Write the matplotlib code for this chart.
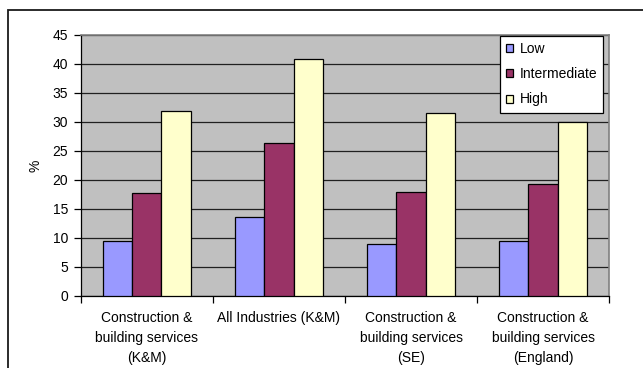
import numpy as np
import matplotlib.pyplot as plt
from matplotlib.patches import Patch, Rectangle

plt.rcParams['font.family'] = ['Liberation Sans', 'DejaVu Sans']

categories = ["Construction &\nbuilding services\n(K&M)",
              "All Industries (K&M)",
              "Construction &\nbuilding services\n(SE)",
              "Construction &\nbuilding services\n(England)"]
low = [9.4, 13.7, 9.0, 9.4]
intermediate = [17.7, 26.3, 17.9, 19.3]
high = [31.9, 40.8, 31.6, 30.0]

series = [("Low", low, "#9999FF"),
          ("Intermediate", intermediate, "#993366"),
          ("High", high, "#FFFFCC")]

fs = 10

fig = plt.figure(figsize=(6.43, 3.68), dpi=100)
ax = fig.add_axes([0.1255, 0.1957, 0.822, 0.7092])

# chart area frame, runs off the right and bottom edge
fig.patches.append(Rectangle((8 / 643, -0.2), 1.2, 1.2 - 9.5 / 368,
                             transform=fig.transFigure, fill=False,
                             edgecolor="#1a1a1a", linewidth=1.3, zorder=0))

x = np.arange(len(categories))
w = 1 / 4.5
for i, (name, vals, col) in enumerate(series):
    ax.bar(x + (i - 1) * w, vals, width=w, color=col, edgecolor="black",
           linewidth=0.9, label=name, zorder=3)

ax.set_facecolor("#C0C0C0")
ax.set_xlim(-0.5, len(categories) - 0.5)
ax.set_ylim(0, 45)
ax.set_yticks(np.arange(0, 46, 5))
ax.yaxis.grid(True, color="#202020", linewidth=0.9, zorder=1)
ax.set_axisbelow(True)

ax.set_xticks(x)
ax.set_xticklabels(categories, fontsize=fs, linespacing=1.52)
ax.set_xticks(np.arange(-0.5, len(categories)), minor=True)
ax.tick_params(axis="x", which="major", length=0, pad=11)
ax.tick_params(axis="x", which="minor", length=5, width=0.9, direction="out")
ax.tick_params(axis="y", length=5, width=0.9, direction="out", pad=4, labelsize=fs)

for side in ("top", "right"):
    ax.spines[side].set_color("#808080")
    ax.spines[side].set_linewidth(1.2)
for side in ("left", "bottom"):
    ax.spines[side].set_color("black")
    ax.spines[side].set_linewidth(0.9)

ax.set_ylabel("%", fontsize=fs, labelpad=7)

handles = [Patch(facecolor=c, edgecolor="black", linewidth=0.9) for _, _, c in series]
leg = ax.legend(handles, [s[0] for s in series], loc="upper left",
                bbox_to_anchor=(500 / 643, 1 - 36 / 368),
                bbox_transform=fig.transFigure, fontsize=fs,
                frameon=True, fancybox=False, edgecolor="black",
                framealpha=1, borderpad=0.45, borderaxespad=0,
                handlelength=0.5, handleheight=0.5, handletextpad=0.45,
                labelspacing=0.8)
leg.get_frame().set_linewidth(0.9)

fig.savefig("out.png", dpi=100)
